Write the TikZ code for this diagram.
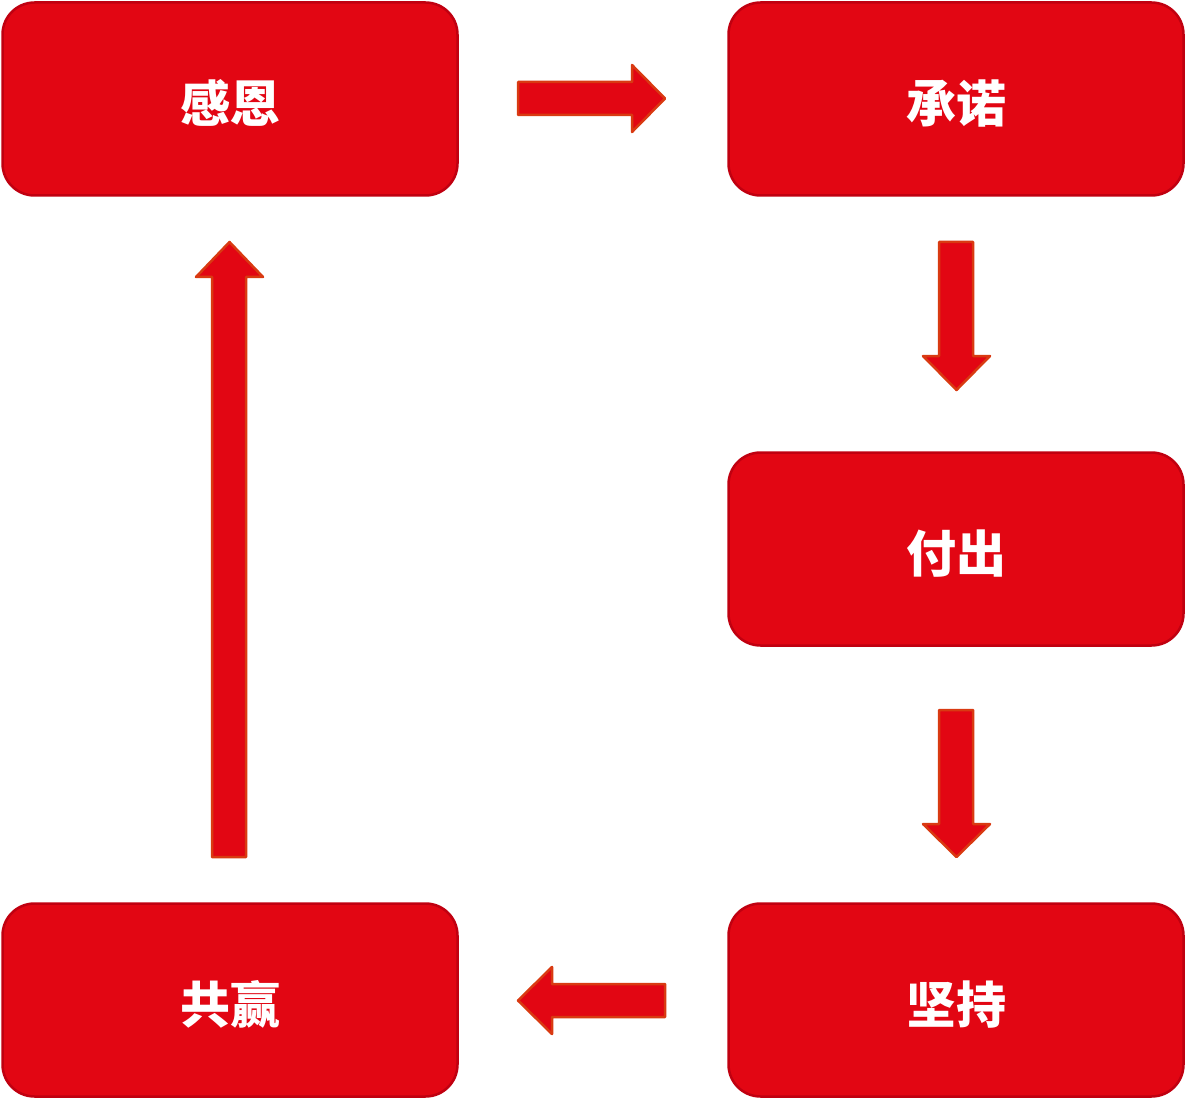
\documentclass[tikz,border=0pt]{standalone}
\usepackage{fontspec}
\newfontfamily\cjk{Noto Sans CJK SC Black}
\definecolor{boxred}{HTML}{E20613}
\definecolor{boxedge}{HTML}{C00010}
\definecolor{arrowedge}{HTML}{D93A12}
\begin{document}
\begin{tikzpicture}[x=1pt,y=-1pt,
  box/.style={draw=boxedge,line width=2.5pt,fill=boxred,rounded corners=32pt,
    minimum width=455pt,minimum height=193pt,inner sep=0pt,
    text height=47pt,text depth=0pt,
    text=white,font=\cjk\fontsize{50}{50}\selectfont},
  arr/.style={draw=arrowedge,line width=2.5pt,fill=boxred,line join=round}]
\useasboundingbox (0,0) rectangle (1186,1099);
\node[box] (gan) at (230,99) {感恩};
\node[box] (cheng) at (956,99) {承诺};
\node[box] (fu) at (956,549) {付出};
\node[box] (jian) at (956,1000) {坚持};
\node[box] (gong) at (230,1000) {共赢};
% right arrow
\draw[arr] (518,82) -- (632,82) -- (632,65) -- (665,98.5) -- (632,132) -- (632,115) -- (518,115) -- cycle;
% down arrow 1
\draw[arr] (939,242) -- (973,242) -- (973,356) -- (990,356) -- (956.5,390) -- (923,356) -- (939,356) -- cycle;
% down arrow 2
\draw[arr] (939,710) -- (973,710) -- (973,824) -- (990,824) -- (956.5,857) -- (923,824) -- (939,824) -- cycle;
% left arrow
\draw[arr] (665,984) -- (552,984) -- (552,967) -- (518,1000.5) -- (552,1034) -- (552,1017) -- (665,1017) -- cycle;
% up arrow
\draw[arr] (212,857) -- (246,857) -- (246,277) -- (263,277) -- (229.5,242) -- (196,277) -- (212,277) -- cycle;
\end{tikzpicture}
\end{document}
